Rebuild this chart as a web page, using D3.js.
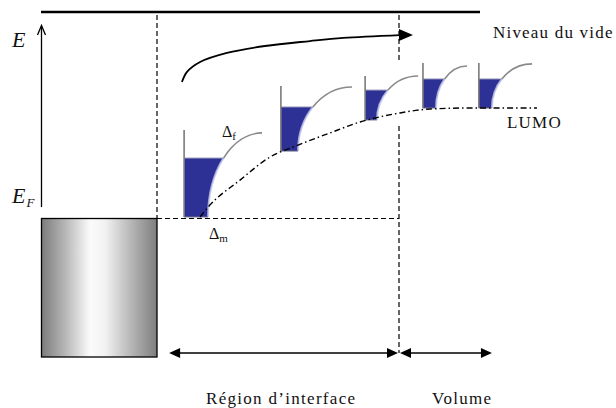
<!DOCTYPE html>
<html><head><meta charset="utf-8">
<script src="https://cdn.jsdelivr.net/npm/d3@7/dist/d3.min.js"></script>
<style>
html,body{margin:0;padding:0;background:#fff;}
svg{display:block;}
text{font-family:"Liberation Serif","Times New Roman",serif;fill:#111;}
</style>
</head><body>
<svg id="chart" width="616" height="408"></svg>
<script>
// distance from the interface (0 = metal surface, 100 = end of interface region)
// energy above the Fermi level (0 = E_F, 100 = vacuum level), arbitrary units
const wellStickX   = [11.2, 51.2, 86.0, 109.9, 133.0];
const wellBottom   = [0.5, 32.5, 47.6, 53.4, 53.4];
const wellFillTop  = [29.1, 53.9, 62.1, 67.5, 67.5];
const wellTop      = [42.7, 64.1, 68.9, 75.2, 75.2];
const wellCornerX  = [21.1, 58.3, 90.9, 115.3, 138.4];
const wellEndX     = [43.4, 80.6, 107.9, 128.1, 155.0];
const wellEndE     = [41.3, 63.6, 68.9, 73.8, 74.8];
const lumoX = [17.8, 21.1, 34.3, 46.7, 58.3, 71.5, 83.9, 100.4, 112.8, 129.3, 157.0];
const lumoE = [0.5, 5.3, 18.4, 29.6, 35.4, 41.3, 46.6, 51.0, 52.9, 53.4, 53.4];
const vacX = [10.3, 12.4, 17.8, 28.9, 44.6, 63.2, 76.9, 100.4];
const vacE = [66.0, 70.9, 75.7, 80.1, 83.5, 85.9, 87.4, 88.8];
const regionLabels = ["Région d’interface", "Volume"];
const levelLabels = ["Niveau du vide", "LUMO"];

const svg = d3.select("#chart");
const x = d3.scaleLinear().domain([0, 100]).range([157, 399]);
const y = d3.scaleLinear().domain([0, 100]).range([218, 12]);

// gradient for the metal
const defs = svg.append("defs");
const grad = defs.append("linearGradient").attr("id", "metal").attr("x1", "0").attr("x2", "1").attr("y1", "0").attr("y2", "0");
[[0, "#7c7c7c"], [0.2, "#b5b5b5"], [0.42, "#fbfbfb"], [0.55, "#f2f2f2"], [0.8, "#b0b0b0"], [1, "#7e7e7e"]]
  .forEach(([o, c]) => grad.append("stop").attr("offset", o).attr("stop-color", c));

// vacuum level line
svg.append("line").attr("x1", 41).attr("x2", 480).attr("y1", y(100)).attr("y2", y(100))
  .attr("stroke", "#000").attr("stroke-width", 2.5);

// energy axis
svg.append("line").attr("x1", 41.5).attr("x2", 41.5).attr("y1", y(5.3)).attr("y2", 26)
  .attr("stroke", "#000").attr("stroke-width", 1.3);
svg.append("path").attr("d", "M37.5,35 L41.5,25.5 L45.5,35").attr("fill", "none")
  .attr("stroke", "#000").attr("stroke-width", 1.3);

// metal block
svg.append("rect").attr("x", 41.5).attr("y", y(0) + 0.5).attr("width", x(0) - 41.5).attr("height", 357 - y(0) - 0.5)
  .attr("fill", "url(#metal)").attr("stroke", "#000").attr("stroke-width", 1.3);

const dash = sel => sel.attr("stroke", "#000").attr("stroke-width", 1.2).attr("stroke-dasharray", "5,3").attr("fill", "none");
// dashed guides
dash(svg.append("line").attr("x1", x(0)).attr("x2", x(0)).attr("y1", 15).attr("y2", y(0)));
dash(svg.append("line").attr("x1", x(0)).attr("x2", x(100)).attr("y1", y(0) + 0.5).attr("y2", y(0) + 0.5));
dash(svg.append("line").attr("x1", x(100)).attr("x2", x(100)).attr("y1", 15).attr("y2", 60));
dash(svg.append("line").attr("x1", x(100)).attr("x2", x(100)).attr("y1", 126).attr("y2", 353));

// wells
for (let i = 0; i < wellStickX.length; i++) {
  const xs = x(wellStickX[i]);
  const cx = x(wellEndX[i]);
  const cy = y(wellBottom[i]);
  const a = cx - x(wellCornerX[i]);
  const b = cy - y(wellEndE[i]);
  const ft = y(wellFillTop[i]);
  const s = Math.min(1, (cy - ft) / b);
  const tx = cx - a * Math.sqrt(1 - s * s);
  const xc = x(wellCornerX[i]);
  svg.append("path")
    .attr("d", `M${xs},${ft} L${tx},${ft} A${a},${b} 0 0 0 ${xc},${cy} L${xs},${cy} Z`)
    .attr("fill", "#2d3196");
  svg.append("path")
    .attr("d", `M${tx},${ft} A${a},${b} 0 0 0 ${xc},${cy}`)
    .attr("fill", "none").attr("stroke", "#c3c6ec").attr("stroke-width", 2).attr("opacity", 0.8);
  svg.append("path")
    .attr("d", `M${tx},${ft} A${a},${b} 0 0 1 ${cx},${cy - b}`)
    .attr("fill", "none").attr("stroke", "#8a8a8a").attr("stroke-width", 1.6);
  svg.append("line").attr("x1", xs).attr("x2", tx).attr("y1", ft).attr("y2", ft)
    .attr("stroke", "#9a9ab8").attr("stroke-width", 1);
  svg.append("line").attr("x1", xs).attr("x2", xc).attr("y1", cy).attr("y2", cy)
    .attr("stroke", "#6c6c8c").attr("stroke-width", 1);
  svg.append("line").attr("x1", xs).attr("x2", xs).attr("y1", y(wellTop[i])).attr("y2", cy)
    .attr("stroke", "#7a7a7a").attr("stroke-width", 1.6);
}

// LUMO dash-dot curve
const lumoLine = d3.line().x(d => x(d[0])).y(d => y(d[1])).curve(d3.curveMonotoneX);
svg.append("path").attr("d", lumoLine(d3.zip(lumoX, lumoE)))
  .attr("fill", "none").attr("stroke", "#000").attr("stroke-width", 1.4)
  .attr("stroke-dasharray", "6,3,1.5,3");

// vacuum-level arrow
const vacLine = d3.line().x(d => x(d[0])).y(d => y(d[1])).curve(d3.curveCatmullRom);
svg.append("path").attr("d", vacLine(d3.zip(vacX, vacE)))
  .attr("fill", "none").attr("stroke", "#000").attr("stroke-width", 1.8);
const vx = x(vacX[vacX.length - 1]), vy = y(vacE[vacE.length - 1]);
svg.append("path").attr("d", `M${vx - 1},${vy - 6} L${vx + 13},${vy} L${vx - 1},${vy + 6} Z`).attr("fill", "#000");

// bottom double arrows
const ay = 353;
function hArrow(x1, x2) {
  svg.append("line").attr("x1", x1 + 8).attr("x2", x2 - 8).attr("y1", ay).attr("y2", ay)
    .attr("stroke", "#000").attr("stroke-width", 1.3);
  svg.append("path").attr("d", `M${x1},${ay} L${x1 + 11},${ay - 5} L${x1 + 11},${ay + 5} Z`).attr("fill", "#000");
  svg.append("path").attr("d", `M${x2},${ay} L${x2 - 11},${ay - 5} L${x2 - 11},${ay + 5} Z`).attr("fill", "#000");
}
hArrow(x(5), x(100) - 1);
hArrow(x(100) + 1, x(138.4));

// labels
svg.append("text").attr("x", 12).attr("y", 47).attr("font-size", 22).attr("font-style", "italic").text("E");
const ef = svg.append("text").attr("x", 12).attr("y", 203).attr("font-size", 22).attr("font-style", "italic");
ef.append("tspan").text("E");
ef.append("tspan").attr("font-size", 13).attr("dy", 4).attr("dx", 1).text("F");

svg.append("text").attr("x", 493).attr("y", 38).attr("font-size", 17).attr("letter-spacing", 1.2).text(levelLabels[0]);
svg.append("text").attr("x", 507).attr("y", 128).attr("font-size", 17).attr("letter-spacing", 1.2).text(levelLabels[1]);

const df = svg.append("text").attr("x", 222).attr("y", 137).attr("font-size", 16);
df.append("tspan").text("Δ");
df.append("tspan").attr("font-size", 11).attr("dy", 3).text("f");
const dm = svg.append("text").attr("x", 209).attr("y", 239).attr("font-size", 16);
dm.append("tspan").text("Δ");
dm.append("tspan").attr("font-size", 11).attr("dy", 3).text("m");

svg.append("text").attr("x", 206).attr("y", 404).attr("font-size", 17).attr("letter-spacing", 1.3).text(regionLabels[0]);
svg.append("text").attr("x", 432).attr("y", 404).attr("font-size", 17).attr("letter-spacing", 1.3).text(regionLabels[1]);
</script>
</body></html>
